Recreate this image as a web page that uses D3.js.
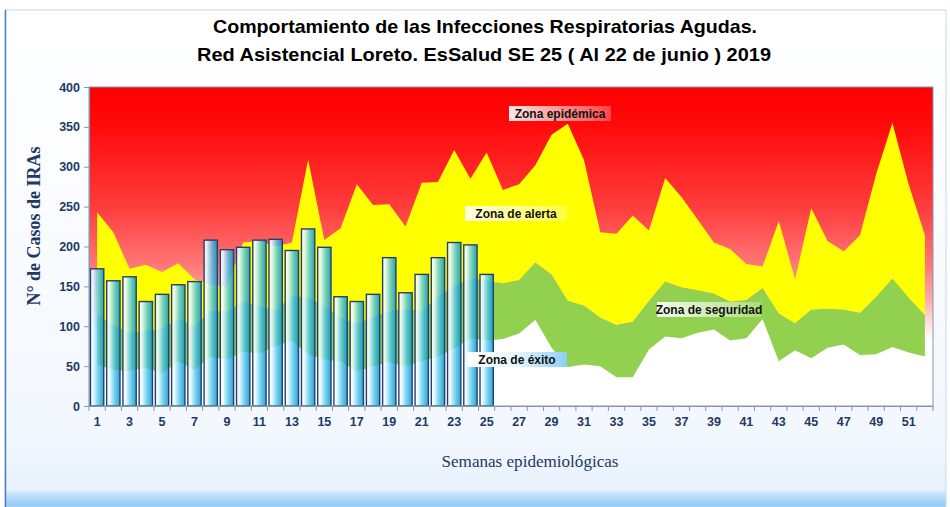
<!DOCTYPE html>
<html>
<head>
<meta charset="utf-8">
<script src="https://cdn.jsdelivr.net/npm/d3@7"></script>
<style>
  body { margin: 0; background: #fff; }
  svg { display: block; }
</style>
</head>
<body>
<div id="chart"></div>
<script>
const width = 950;
const height = 507;

// semanas epidemiologicas
const semanas = d3.range(1, 53);
const semanasTicks = semanas.filter(d => d % 2 === 1);
const yTicks = [0, 50, 100, 150, 200, 250, 300, 350, 400];

// casos 2019 (SE 1 - 25)
const casos = [172, 157, 162, 131, 140, 152, 156, 208, 196, 199, 208, 209, 195,
  222, 199, 137, 131, 140, 186, 142, 165, 186, 205, 202, 165];

// limite superior de cada zona del canal endemico
const exito = [52, 45, 44, 48, 41, 56, 45, 62, 58, 68, 66, 75, 82, 65, 58, 56, 43,
  50, 55, 50, 56, 62, 72, 85, 82, 84, 91, 108, 73, 49, 52, 50, 36, 36, 71, 87, 85,
  92, 96, 82, 85, 109, 56, 70, 60, 73, 77, 64, 65, 74, 67, 62];
const seguridad = [115, 102, 92, 95, 97, 110, 100, 120, 118, 132, 125, 120, 138,
  136, 125, 111, 103, 112, 119, 122, 119, 138, 150, 160, 157, 154, 158, 180, 165,
  132, 126, 111, 102, 106, 132, 156, 149, 145, 141, 131, 133, 148, 116, 104, 121,
  122, 121, 117, 137, 160, 136, 114];
const alerta = [243, 218, 172, 177, 168, 179, 159, 152, 150, 205, 207, 200, 205,
  309, 208, 223, 278, 252, 253, 225, 280, 281, 321, 285, 318, 271, 278, 302, 340,
  354, 308, 218, 216, 239, 220, 286, 262, 234, 205, 197, 178, 175, 232, 159, 248,
  207, 194, 214, 291, 355, 278, 214];

const navy = "#1f3864";
const margin = { top: 87, right: 17, bottom: 101, left: 89 };
const plotW = width - margin.left - margin.right;
const plotH = height - margin.top - margin.bottom;

const svg = d3.select("#chart")
  .append("svg")
  .attr("width", width)
  .attr("height", height);

const defs = svg.append("defs");

// fondo del marco
const gFrame = defs.append("linearGradient")
  .attr("id", "frameGrad").attr("x1", 0).attr("y1", 0).attr("x2", 0).attr("y2", 1);
gFrame.append("stop").attr("offset", 0).attr("stop-color", "#ffffff");
gFrame.append("stop").attr("offset", 0.84).attr("stop-color", "#f3f8fe");
gFrame.append("stop").attr("offset", 0.965).attr("stop-color", "#e8f2fd");
gFrame.append("stop").attr("offset", 0.975).attr("stop-color", "#c2e1fb");
gFrame.append("stop").attr("offset", 1).attr("stop-color", "#8cc8f6");

// zona epidemica (fondo rojo)
const gRed = defs.append("linearGradient")
  .attr("id", "redGrad").attr("x1", 0).attr("y1", 0).attr("x2", 0).attr("y2", 1);
[[0, "#ff0000"], [0.12, "#ff0a0a"], [0.38, "#ff3d3d"], [0.55, "#ff7474"],
 [0.66, "#ffa8a8"], [0.77, "#fff2f2"], [0.8, "#ffffff"], [1, "#ffffff"]]
  .forEach(s => gRed.append("stop").attr("offset", s[0]).attr("stop-color", s[1]));

// barras
const gBar = defs.append("linearGradient")
  .attr("id", "barGrad").attr("x1", 0).attr("y1", 0).attr("x2", 1).attr("y2", 0);
gBar.append("stop").attr("offset", 0).attr("stop-color", "#ffffff").attr("stop-opacity", 0.95);
gBar.append("stop").attr("offset", 0.22).attr("stop-color", "#e6f9ff").attr("stop-opacity", 0.88);
gBar.append("stop").attr("offset", 0.65).attr("stop-color", "#3cbde6").attr("stop-opacity", 0.78);
gBar.append("stop").attr("offset", 1).attr("stop-color", "#0a90d2").attr("stop-opacity", 0.85);

// cajas de texto
const gBox = defs.append("linearGradient")
  .attr("id", "boxGrad").attr("x1", 0).attr("y1", 0).attr("x2", 1).attr("y2", 0);
gBox.append("stop").attr("offset", 0).attr("stop-color", "#ffffff").attr("stop-opacity", 0.9);
gBox.append("stop").attr("offset", 1).attr("stop-color", "#ffffff").attr("stop-opacity", 0.25);
const gBoxBlue = defs.append("linearGradient")
  .attr("id", "boxBlue").attr("x1", 0).attr("y1", 0).attr("x2", 1).attr("y2", 0);
gBoxBlue.append("stop").attr("offset", 0).attr("stop-color", "#ffffff");
gBoxBlue.append("stop").attr("offset", 0.5).attr("stop-color", "#e8f6fd");
gBoxBlue.append("stop").attr("offset", 1).attr("stop-color", "#8ccff5");

// marco exterior
svg.append("rect")
  .attr("x", 5).attr("y", 10)
  .attr("width", 941).attr("height", 497)
  .attr("fill", "url(#frameGrad)")
  .attr("stroke", "#c6d9f0");
svg.append("line")
  .attr("x1", 5.5).attr("x2", 5.5).attr("y1", 10).attr("y2", height)
  .attr("stroke", "#4f7fc4").attr("stroke-width", 1.5);

// titulo
const title = svg.append("g")
  .attr("font-family", "Liberation Sans, Arial, sans-serif")
  .attr("font-weight", "bold")
  .attr("font-size", 19)
  .attr("fill", "#000")
  .attr("text-anchor", "middle");
title.append("text").attr("x", 485).attr("y", 33)
  .attr("textLength", 544).attr("lengthAdjust", "spacingAndGlyphs")
  .text("Comportamiento de las Infecciones Respiratorias Agudas.");
title.append("text").attr("x", 484).attr("y", 61)
  .attr("textLength", 574).attr("lengthAdjust", "spacingAndGlyphs")
  .text("Red Asistencial Loreto. EsSalud SE 25 ( Al 22 de junio ) 2019");

const x = d3.scaleBand()
  .domain(semanas)
  .range([margin.left, margin.left + plotW])
  .paddingInner(0.18)
  .paddingOuter(0.09);

const y = d3.scaleLinear()
  .domain([0, 400])
  .range([margin.top + plotH, margin.top]);

const cx = d => x(d) + x.bandwidth() / 2;

// fondo del area de grafico
svg.append("rect")
  .attr("x", margin.left).attr("y", margin.top)
  .attr("width", plotW).attr("height", plotH)
  .attr("fill", "url(#redGrad)");

const zonas = [
  { lo: alerta.map(() => 0), hi: exito, color: "#ffffff" },
  { lo: exito, hi: seguridad, color: "#92d050" },
  { lo: seguridad, hi: alerta, color: "#ffff00" }
];

zonas.forEach(z => {
  const area = d3.area()
    .x((d, i) => cx(semanas[i]))
    .y0((d, i) => y(z.lo[i]))
    .y1((d, i) => y(z.hi[i]));
  svg.append("path")
    .datum(z.hi)
    .attr("d", area)
    .attr("fill", z.color);
});

// barras
svg.append("g")
  .selectAll("rect")
  .data(casos)
  .join("rect")
  .attr("x", (d, i) => x(semanas[i]))
  .attr("y", d => y(d))
  .attr("width", x.bandwidth())
  .attr("height", d => y(0) - y(d))
  .attr("fill", "url(#barGrad)")
  .attr("stroke", "#26406a")
  .attr("stroke-width", 1.4);

// borde del area
svg.append("rect")
  .attr("x", margin.left).attr("y", margin.top)
  .attr("width", plotW).attr("height", plotH)
  .attr("fill", "none")
  .attr("stroke", "#8496b4");

// ejes
const yAxis = svg.append("g")
  .attr("transform", `translate(${margin.left},0)`)
  .call(d3.axisLeft(y).tickValues(yTicks).tickSize(5).tickPadding(4));
yAxis.select(".domain").attr("stroke", "#8496b4");
yAxis.selectAll(".tick line").attr("stroke", "#8496b4");
yAxis.selectAll("text")
  .attr("font-family", "Liberation Sans, Arial, sans-serif")
  .attr("font-weight", "bold")
  .attr("font-size", 12.5)
  .attr("fill", navy);

const xAxis = svg.append("g")
  .attr("transform", `translate(0,${margin.top + plotH})`)
  .call(d3.axisBottom(x).tickValues(semanasTicks).tickSize(0).tickPadding(11));
xAxis.select(".domain").attr("stroke", "#8496b4");
xAxis.selectAll("text")
  .attr("font-family", "Liberation Sans, Arial, sans-serif")
  .attr("font-weight", "bold")
  .attr("font-size", 12.5)
  .attr("fill", navy);

// marcas entre semanas
svg.append("g")
  .selectAll("line")
  .data(semanas.concat([53]))
  .join("line")
  .attr("x1", d => x.range()[0] + (d - 1) * x.step())
  .attr("x2", d => x.range()[0] + (d - 1) * x.step())
  .attr("y1", y(0))
  .attr("y2", y(0) + 5)
  .attr("stroke", "#8496b4");

// titulos de ejes
svg.append("text")
  .attr("transform", "translate(40,226) rotate(-90)")
  .attr("text-anchor", "middle")
  .attr("font-family", "Liberation Serif, Times New Roman, serif")
  .attr("font-weight", "bold")
  .attr("font-size", 18)
  .attr("fill", navy)
  .text("N° de Casos de IRAs");

svg.append("text")
  .attr("x", 530).attr("y", 467)
  .attr("text-anchor", "middle")
  .attr("font-family", "Liberation Serif, Times New Roman, serif")
  .attr("font-size", 17)
  .attr("fill", navy)
  .attr("textLength", 177).attr("lengthAdjust", "spacingAndGlyphs")
  .text("Semanas epidemiológicas");

// etiquetas de zonas
const etiquetas = [
  { text: "Zona epidémica", x: 509, y: 106, w: 102, fill: "url(#boxGrad)" },
  { text: "Zona de alerta", x: 465, y: 206, w: 102, fill: "url(#boxGrad)" },
  { text: "Zona de seguridad", x: 657, y: 302, w: 104, fill: "url(#boxGrad)" },
  { text: "Zona de éxito", x: 467, y: 352, w: 100, fill: "url(#boxBlue)" }
];

const lab = svg.append("g")
  .selectAll("g")
  .data(etiquetas)
  .join("g");
lab.append("rect")
  .attr("x", d => d.x).attr("y", d => d.y)
  .attr("width", d => d.w).attr("height", 15)
  .attr("fill", d => d.fill);
lab.append("text")
  .attr("x", d => d.x + d.w / 2)
  .attr("y", d => d.y + 11.5)
  .attr("text-anchor", "middle")
  .attr("font-family", "Liberation Sans, Arial, sans-serif")
  .attr("font-weight", "bold")
  .attr("font-size", 12)
  .attr("fill", "#111")
  .text(d => d.text);
</script>
</body>
</html>
